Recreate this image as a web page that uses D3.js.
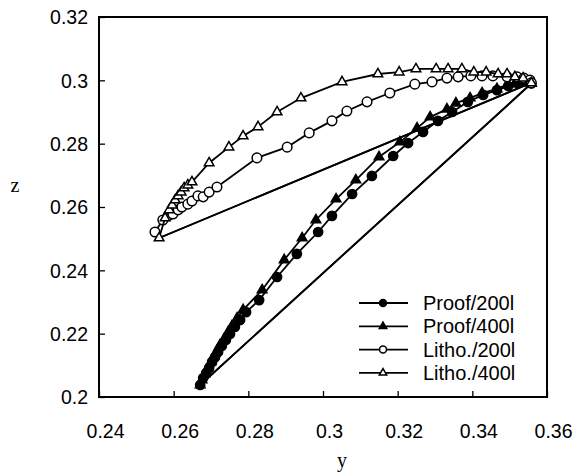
<!DOCTYPE html>
<html>
<head>
<meta charset="utf-8">
<script src="https://d3js.org/d3.v7.min.js"></script>
<style>
  body { margin: 0; background: #fff; }
  text { font-family: "Liberation Sans", Arial, sans-serif; }
</style>
</head>
<body>
<div id="chart"></div>
<script>
// tick values and labels
var xTicks = [0.24, 0.26, 0.28, 0.30, 0.32, 0.34, 0.36];
var xTickLabels = ["0.24", "0.26", "0.28", "0.3", "0.32", "0.34", "0.36"];
var yTicks = [0.20, 0.22, 0.24, 0.26, 0.28, 0.30, 0.32];
var yTickLabels = ["0.2", "0.22", "0.24", "0.26", "0.28", "0.3", "0.32"];

var seriesNames = ["Proof/200l", "Proof/400l", "Litho./200l", "Litho./400l"];

// each path ends with a straight line back to the lower-left start
var proof200 = [
  [0.2671,0.2038],[0.2679,0.2060],[0.2687,0.2076],[0.2695,0.2092],[0.2703,0.2111],
  [0.2711,0.2126],[0.2719,0.2142],[0.2729,0.2161],[0.2740,0.2180],[0.2751,0.2199],
  [0.2764,0.2221],[0.2778,0.2243],[0.2794,0.2268],[0.2829,0.2306],[0.2877,0.2379],
  [0.2930,0.2452],[0.2987,0.2521],[0.3024,0.2572],[0.3078,0.2641],[0.3131,0.2698],
  [0.3188,0.2761],[0.3228,0.2802],[0.3268,0.2837],[0.3308,0.2872],[0.3346,0.2900],
  [0.3388,0.2932],[0.3429,0.2954],[0.3466,0.2969],[0.3496,0.2982],[0.3520,0.2992],
  [0.3538,0.2998],[0.3554,0.2995],[0.3558,0.2990],[0.2671,0.2038]
];
var proof400 = [
  [0.2671,0.2038],[0.2676,0.2054],[0.2684,0.2073],[0.2692,0.2092],[0.2700,0.2111],
  [0.2708,0.2129],[0.2716,0.2145],[0.2724,0.2164],[0.2735,0.2183],[0.2746,0.2205],
  [0.2756,0.2224],[0.2770,0.2249],[0.2786,0.2275],[0.2837,0.2338],[0.2896,0.2433],
  [0.2944,0.2502],[0.2981,0.2559],[0.3035,0.2625],[0.3088,0.2685],[0.3150,0.2758],
  [0.3206,0.2805],[0.3252,0.2849],[0.3287,0.2884],[0.3332,0.2909],[0.3356,0.2928],
  [0.3394,0.2944],[0.3426,0.2960],[0.3466,0.2973],[0.3496,0.2988],[0.3522,0.2998],
  [0.3544,0.3001],[0.3558,0.2990],[0.2671,0.2038]
];
var litho200 = [
  [0.2550,0.2521],[0.2571,0.2559],[0.2585,0.2572],[0.2598,0.2578],[0.2612,0.2591],
  [0.2622,0.2600],[0.2638,0.2609],[0.2649,0.2619],[0.2665,0.2635],[0.2679,0.2632],
  [0.2695,0.2647],[0.2716,0.2663],[0.2823,0.2755],[0.2904,0.2789],[0.2963,0.2834],
  [0.3024,0.2872],[0.3064,0.2903],[0.3118,0.2932],[0.3179,0.2960],[0.3246,0.2988],
  [0.3292,0.2995],[0.3332,0.3007],[0.3362,0.3011],[0.3396,0.3014],[0.3426,0.3014],
  [0.3455,0.3014],[0.3493,0.3011],[0.3520,0.3011],[0.3538,0.3007],[0.3554,0.3001],
  [0.3558,0.2992],[0.2561,0.2502]
];
var litho400 = [
  [0.2561,0.2502],[0.2577,0.2565],[0.2588,0.2591],[0.2596,0.2606],[0.2604,0.2622],
  [0.2612,0.2635],[0.2620,0.2647],[0.2628,0.2660],[0.2638,0.2669],[0.2649,0.2679],
  [0.2695,0.2739],[0.2748,0.2789],[0.2786,0.2824],[0.2826,0.2853],[0.2877,0.2900],
  [0.2941,0.2944],[0.3051,0.2995],[0.3147,0.3020],[0.3204,0.3026],[0.3249,0.3036],
  [0.3303,0.3036],[0.3335,0.3036],[0.3372,0.3036],[0.3404,0.3026],[0.3437,0.3026],
  [0.3469,0.3020],[0.3493,0.3020],[0.3514,0.3011],[0.3536,0.3007],[0.3558,0.2992],
  [0.2561,0.2502]
];

var margin = {top: 17, right: 30, bottom: 78, left: 99},
    width = 448,
    height = 380;

var svg = d3.select("#chart")
  .append("svg")
  .attr("width", 577)
  .attr("height", 475);

var g = svg.append("g")
  .attr("transform", "translate(" + margin.left + "," + margin.top + ")");

var x = d3.scaleLinear().domain([0.24, 0.36]).range([0, width]);
var y = d3.scaleLinear().domain([0.20, 0.32]).range([height, 0]);

// axes with inward ticks
var xAxis = g.append("g")
  .attr("transform", "translate(0," + height + ")")
  .call(d3.axisBottom(x).tickValues(xTicks).tickSizeInner(-6).tickSizeOuter(0)
    .tickFormat(function(d, i) { return xTickLabels[i]; }));
xAxis.select(".domain").remove();
xAxis.selectAll("line").attr("stroke", "#000").attr("stroke-width", 1.3);
xAxis.selectAll("text")
  .attr("y", 41).attr("dy", 0).attr("dx", 6)
  .style("font-size", "19.5px").attr("fill", "#000");

var yAxis = g.append("g")
  .call(d3.axisLeft(y).tickValues(yTicks).tickSizeInner(-6).tickSizeOuter(0)
    .tickFormat(function(d, i) { return yTickLabels[i]; }));
yAxis.select(".domain").remove();
yAxis.selectAll("line").attr("stroke", "#000").attr("stroke-width", 1.3);
yAxis.selectAll("text")
  .attr("x", -11).attr("dy", "0.35em")
  .style("font-size", "19.5px").attr("fill", "#000");

// frame
g.append("rect")
  .attr("width", width).attr("height", height)
  .attr("fill", "none").attr("stroke", "#000").attr("stroke-width", 2);

// axis titles
svg.append("text")
  .attr("x", 342).attr("y", 467)
  .attr("text-anchor", "middle")
  .style("font-family", "'Liberation Serif', 'Times New Roman', serif")
  .style("font-size", "20px")
  .text("y");
svg.append("text")
  .attr("x", 15).attr("y", 192)
  .attr("text-anchor", "middle")
  .style("font-family", "'Liberation Serif', 'Times New Roman', serif")
  .style("font-size", "20px")
  .text("z");

var line = d3.line()
  .x(function(d) { return x(d[0]); })
  .y(function(d) { return y(d[1]); });

var triangle = d3.symbol().type(d3.symbolTriangle);

function drawMarkers(sel, kind, big) {
  if (kind == "circle" || kind == "ocircle") {
    sel.append("circle")
      .attr("r", big ? (kind == "circle" ? 4.6 : 4.8) : 3.5)
      .attr("fill", kind == "circle" ? "#000" : "#fff")
      .attr("stroke", "#000")
      .attr("stroke-width", 1.5);
  } else {
    sel.append("path")
      .attr("d", triangle.size(big ? 40 : 24)())
      .attr("fill", kind == "tri" ? "#000" : "#fff")
      .attr("stroke", "#000")
      .attr("stroke-width", 1.5);
  }
}

var allSeries = [proof200, proof400, litho200, litho400];
var kinds = ["circle", "tri", "ocircle", "otri"];

allSeries.forEach(function(data, k) {
  g.append("path")
    .datum(data)
    .attr("d", line)
    .attr("fill", "none")
    .attr("stroke", "#000")
    .attr("stroke-width", 1.8);

  var pts = g.selectAll(".pt" + k)
    .data(data.slice(0, data.length - 1))
    .enter()
    .append("g")
    .attr("class", "pt" + k)
    .attr("transform", function(d) { return "translate(" + x(d[0]) + "," + y(d[1]) + ")"; });
  drawMarkers(pts, kinds[k], true);
});

// legend
var legend = svg.append("g");
seriesNames.forEach(function(name, i) {
  var ly = 303 + i * 23.3;
  legend.append("line")
    .attr("x1", 359).attr("x2", 408)
    .attr("y1", ly).attr("y2", ly)
    .attr("stroke", "#000").attr("stroke-width", 1.8);
  var m = legend.append("g").attr("transform", "translate(383," + ly + ")");
  drawMarkers(m, kinds[i], false);
  legend.append("text")
    .attr("x", 423).attr("y", ly).attr("dy", "0.35em")
    .style("font-size", "20px")
    .text(name);
});
</script>
</body>
</html>
